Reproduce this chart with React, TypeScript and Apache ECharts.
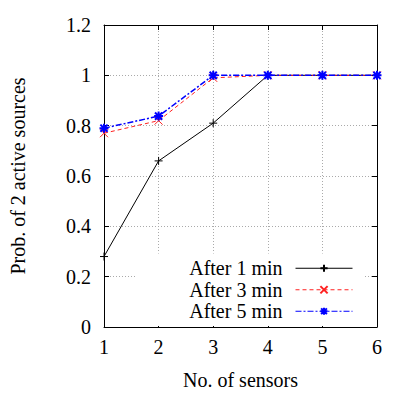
import React, { useEffect, useRef } from "react";
import * as echarts from "echarts";

const sensors = [1, 2, 3, 4, 5, 6];
const after1 = [0.28, 0.66, 0.81, 1, 1, 1];
const after3 = [0.77, 0.82, 0.99, 1, 1, 1];
const after5 = [0.79, 0.838, 1, 1, 1, 1];
const seriesNames = ["After 1 min", "After 3 min", "After 5 min"];

const FONT = "Liberation Serif";
const PLUS = "path://M0 5 L10 5 M5 0 L5 10";
const CROSS = "path://M0 0 L10 10 M10 0 L0 10";
const STAR = "path://M0 5 L10 5 M5 0 L5 10 M1 1 L9 9 M9 1 L1 9";

export default function App() {
  const ref = useRef<HTMLDivElement>(null);
  useEffect(() => {
    const chart = echarts.init(ref.current!, undefined, { renderer: "svg" });
    const axisCommon = {
      type: "value" as const,
      axisLine: { show: true, onZero: false, lineStyle: { color: "#000", width: 1 } },
      axisTick: { show: true, inside: true, length: 5, lineStyle: { color: "#000" } },
    };
    chart.setOption({
      animation: false,
      backgroundColor: "#fff",
      grid: { left: 104, right: 38, top: 25, bottom: 68, containLabel: false },
      xAxis: [
        {
          ...axisCommon,
          min: 1,
          max: 6,
          interval: 1,
          position: "bottom",
          name: "No. of sensors",
          nameLocation: "middle",
          nameGap: 43,
          nameTextStyle: { fontFamily: FONT, fontSize: 20, color: "#000" },
          axisLabel: { fontFamily: FONT, fontSize: 20, color: "#000", margin: 10 },
          splitLine: { show: true, lineStyle: { color: "#aaa", type: [1, 2] } },
        },
        {
          ...axisCommon,
          min: 1,
          max: 6,
          interval: 1,
          position: "top",
          axisLabel: { show: false },
          splitLine: { show: false },
        },
      ],
      yAxis: [
        {
          ...axisCommon,
          min: 0,
          max: 1.2,
          interval: 0.2,
          position: "left",
          name: "Prob. of 2 active sources",
          nameLocation: "middle",
          nameGap: 76,
          nameTextStyle: { fontFamily: FONT, fontSize: 20, color: "#000" },
          axisLabel: { fontFamily: FONT, fontSize: 20, color: "#000", margin: 13 },
          splitLine: { show: true, lineStyle: { color: "#aaa", type: [1, 2] } },
        },
        {
          ...axisCommon,
          min: 0,
          max: 1.2,
          interval: 0.2,
          position: "right",
          axisLabel: { show: false },
          splitLine: { show: false },
        },
      ],
      legend: {
        right: 52,
        bottom: 69,
        orient: "vertical",
        align: "right",
        itemWidth: 57,
        itemHeight: 9,
        itemGap: 0,
        padding: [4, 10, 4, 54],
        backgroundColor: "#fff",
        lineStyle: { width: 1 },
        textStyle: {
          fontFamily: FONT,
          fontSize: 20,
          lineHeight: 21.5,
          color: "#000",
          padding: [0, 8, 0, 0],
        },
        data: seriesNames,
      },
      series: [
        {
          name: seriesNames[0],
          type: "line",
          data: sensors.map((s, i) => [s, after1[i]]),
          symbol: PLUS,
          symbolSize: 8,
          lineStyle: { color: "#000", width: 1 },
          itemStyle: { color: "#000", borderColor: "#000", borderWidth: 1 },
          z: 3,
        },
        {
          name: seriesNames[1],
          type: "line",
          data: sensors.map((s, i) => [s, after3[i]]),
          symbol: CROSS,
          symbolSize: 8,
          lineStyle: { color: "#ff2020", width: 1, type: [4, 3] },
          itemStyle: { color: "#ff2020", borderColor: "#ff2020", borderWidth: 1 },
          z: 4,
        },
        {
          name: seriesNames[2],
          type: "line",
          data: sensors.map((s, i) => [s, after5[i]]),
          symbol: STAR,
          symbolSize: 9,
          lineStyle: { color: "#0000ff", width: 1.5, type: [6, 2, 2, 2] },
          itemStyle: { color: "#0000ff", borderColor: "#0000ff", borderWidth: 2 },
          z: 5,
        },
      ],
    });
    return () => chart.dispose();
  }, []);
  return <div ref={ref} style={{ width: 415, height: 395, position: "absolute", left: 0, top: 0 }} />;
}
